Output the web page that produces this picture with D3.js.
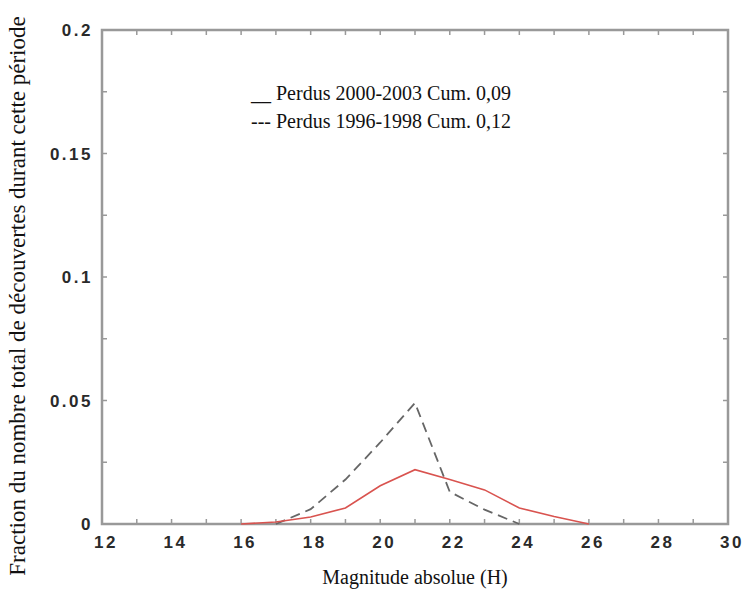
<!DOCTYPE html>
<html>
<head>
<meta charset="utf-8">
<script src="https://cdn.jsdelivr.net/npm/d3@7"></script>
<style>
	body { margin: 0; background: #fff; }
	.tick-label { font-family: 'Liberation Sans', Arial, sans-serif; font-weight: bold; font-size: 17px; fill: #2a2a2a; letter-spacing: 2.5px; }
	.serif { font-family: 'Liberation Serif', 'Times New Roman', serif; fill: #111; }
</style>
</head>
<body>
<svg id="chart" width="744" height="592"></svg>
<script>
const magnitudes = [16, 17, 18, 19, 20, 21, 22, 23, 24, 25, 26];
const lost2000 = [0, 0.0008, 0.0028, 0.0065, 0.0155, 0.022, 0.018, 0.0138, 0.0065, 0.003, 0];
const magnitudes1996 = [17, 18, 19, 20, 21, 22, 23, 24];
const lost1996 = [0, 0.006, 0.018, 0.033, 0.049, 0.013, 0.0058, 0];
const xTicks = [12, 14, 16, 18, 20, 22, 24, 26, 28, 30];
const yTicks = [0, 0.05, 0.1, 0.15, 0.2];
const legendLines = ['__ Perdus 2000-2003 Cum. 0,09', '--- Perdus 1996-1998 Cum. 0,12'];

const svg = d3.select('#chart'),
	plotLeft = 102, plotRight = 728, plotTop = 30, plotBottom = 524,
	x = d3.scaleLinear().domain([12, 30]).range([plotLeft, plotRight]),
	y = d3.scaleLinear().domain([0, 0.2]).range([plotBottom, plotTop]);

const frameColor = '#999';

// minor ticks, inward, on all four sides
const xMinor = d3.range(12, 31, 1),
	yMinor = d3.range(0, 0.2001, 0.025);

svg.append('g').selectAll('line').data(xMinor).enter().append('line')
	.attr('x1', d => x(d)).attr('x2', d => x(d))
	.attr('y1', plotBottom).attr('y2', plotBottom - 5)
	.attr('stroke', frameColor).attr('stroke-width', 1.5);
svg.append('g').selectAll('line').data(xMinor).enter().append('line')
	.attr('x1', d => x(d)).attr('x2', d => x(d))
	.attr('y1', plotTop).attr('y2', plotTop + 5)
	.attr('stroke', frameColor).attr('stroke-width', 1.5);
svg.append('g').selectAll('line').data(yMinor).enter().append('line')
	.attr('x1', plotLeft).attr('x2', plotLeft + 5)
	.attr('y1', d => y(d)).attr('y2', d => y(d))
	.attr('stroke', frameColor).attr('stroke-width', 1.5);
svg.append('g').selectAll('line').data(yMinor).enter().append('line')
	.attr('x1', plotRight).attr('x2', plotRight - 5)
	.attr('y1', d => y(d)).attr('y2', d => y(d))
	.attr('stroke', frameColor).attr('stroke-width', 1.5);

svg.append('rect')
	.attr('x', plotLeft).attr('y', plotTop)
	.attr('width', plotRight - plotLeft).attr('height', plotBottom - plotTop)
	.attr('fill', 'none').attr('stroke', frameColor).attr('stroke-width', 2.5);

svg.append('g').selectAll('text').data(xTicks).enter().append('text')
	.attr('class', 'tick-label')
	.attr('x', d => x(d) + 4).attr('y', plotBottom + 24)
	.attr('text-anchor', 'middle')
	.text(d => d);

svg.append('g').selectAll('text').data(yTicks).enter().append('text')
	.attr('class', 'tick-label')
	.attr('x', plotLeft - 9).attr('y', d => y(d) + 6)
	.attr('text-anchor', 'end')
	.text(d => d);

const line = d3.line().x(d => x(d[0])).y(d => y(d[1]));

svg.append('path')
	.datum(d3.zip(magnitudes1996, lost1996))
	.attr('d', line)
	.attr('fill', 'none').attr('stroke', '#666').attr('stroke-width', 1.8)
	.attr('stroke-dasharray', '10,6');

svg.append('path')
	.datum(d3.zip(magnitudes, lost2000))
	.attr('d', line)
	.attr('fill', 'none').attr('stroke', '#d9534f').attr('stroke-width', 1.6);

svg.append('g').selectAll('text').data(legendLines).enter().append('text')
	.attr('class', 'serif')
	.attr('x', 251).attr('y', (_, i) => 100 + i * 28)
	.style('font-size', '20px')
	.text(d => d);

svg.append('text')
	.attr('class', 'serif')
	.attr('x', 415).attr('y', 584)
	.attr('text-anchor', 'middle')
	.style('font-size', '20px')
	.text('Magnitude absolue (H)');

svg.append('text')
	.attr('class', 'serif')
	.attr('transform', 'translate(25,296) rotate(-90)')
	.attr('text-anchor', 'middle')
	.style('font-size', '23px')
	.text('Fraction du nombre total de découvertes durant cette période');
</script>
</body>
</html>
